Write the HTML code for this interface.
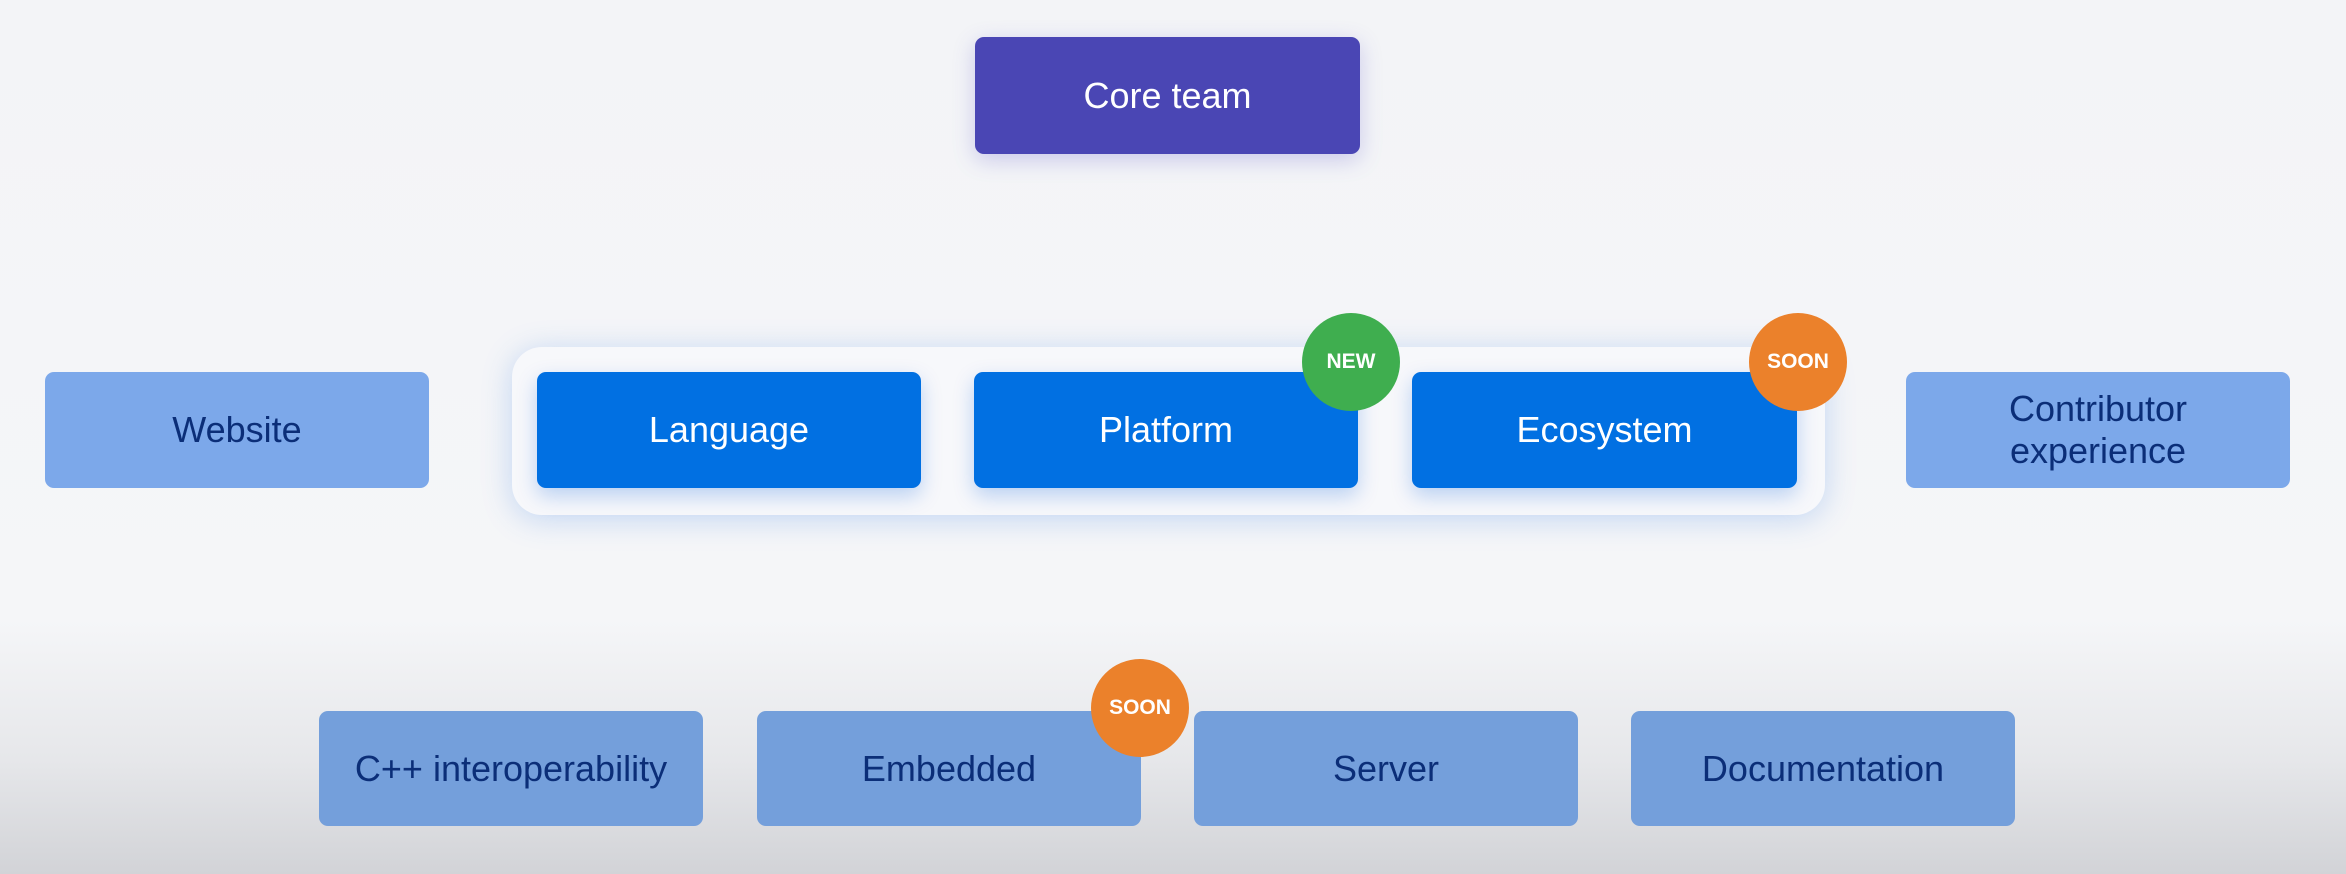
<!DOCTYPE html>
<html><head><meta charset="utf-8"><style>
html,body{margin:0;padding:0}
body{width:2346px;height:874px;position:relative;overflow:hidden;font-family:"Liberation Sans",sans-serif;
background:linear-gradient(to bottom,#f3f4f7 0px,#f5f6f8 620px,#e6e7ea 760px,#d2d3d7 874px);}
.b{position:absolute;display:flex;align-items:center;justify-content:center;text-align:center;border-radius:9px;font-size:36px;line-height:42px}
.core{background:#4a46b4;color:#fff;box-shadow:0 6px 22px rgba(80,70,200,.25)}
.dk{background:#0170e2;color:#fff;box-shadow:0 8px 20px rgba(0,90,220,.25)}
.lt{background:#7ca8ea;color:#0b2e78}
.lb{background:#749fdb;color:#0b2e78}
.cont{position:absolute;left:512px;top:347px;width:1313px;height:168px;border-radius:30px;background:#f7f8fb;box-shadow:0 4px 30px rgba(60,130,230,.28)}
.bd{position:absolute;width:98px;height:98px;border-radius:50%;color:#fff;font-weight:bold;font-size:21px;display:flex;align-items:center;justify-content:center}
.g{background:#3fae4f}.o{background:#eb812b}
</style></head><body>
<div class="b core" style="left:975px;top:37px;width:385px;height:117px">Core team</div>
<div class="cont"></div>
<div class="b lt" style="left:45px;top:372px;width:384px;height:116px">Website</div>
<div class="b dk" style="left:537px;top:372px;width:384px;height:116px">Language</div>
<div class="b dk" style="left:974px;top:372px;width:384px;height:116px">Platform</div>
<div class="b dk" style="left:1412px;top:372px;width:385px;height:116px">Ecosystem</div>
<div class="b lt" style="left:1906px;top:372px;width:384px;height:116px">Contributor<br>experience</div>
<div class="bd g" style="left:1302px;top:313px">NEW</div>
<div class="bd o" style="left:1749px;top:313px">SOON</div>
<div class="b lb" style="left:319px;top:711px;width:384px;height:115px">C++ interoperability</div>
<div class="b lb" style="left:757px;top:711px;width:384px;height:115px">Embedded</div>
<div class="b lb" style="left:1194px;top:711px;width:384px;height:115px">Server</div>
<div class="b lb" style="left:1631px;top:711px;width:384px;height:115px">Documentation</div>
<div class="bd o" style="left:1091px;top:659px">SOON</div>
</body></html>
